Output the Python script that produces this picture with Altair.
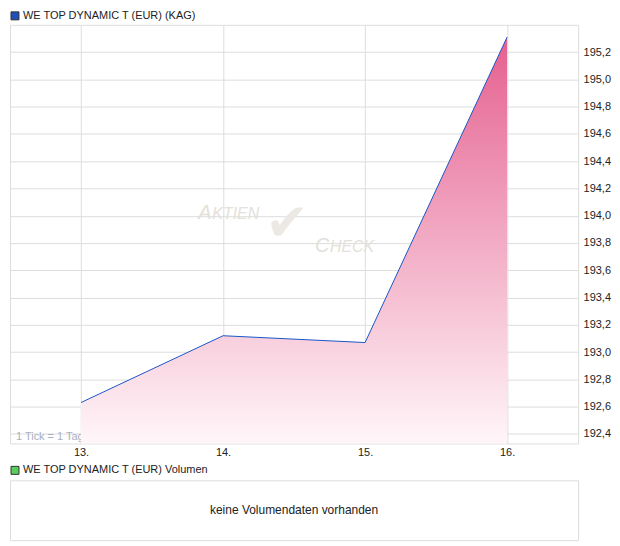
import altair as alt
import pandas as pd

# ---- data ----
days = [13, 14, 15, 16]
values = [192.63, 193.12, 193.07, 195.31]
y_min, y_max = 192.33, 195.40
y_ticks = [192.4, 192.6, 192.8, 193.0, 193.2, 193.4, 193.6, 193.8,
           194.0, 194.2, 194.4, 194.6, 194.8, 195.0, 195.2]
series_name = "WE TOP DYNAMIC T (EUR) (KAG)"
volume_name = "WE TOP DYNAMIC T (EUR) Volumen"
no_volume_text = "keine Volumendaten vorhanden"
tick_note = "1 Tick = 1 Tag"

df = pd.DataFrame({"day": days, "value": values})
one = pd.DataFrame({"k": [0]})

FONT = "Liberation Sans"
W, H = 570, 420

x = alt.X(
    "day:Q",
    scale=alt.Scale(domain=[12.5, 16.5], nice=False, zero=False),
    axis=alt.Axis(values=days, labelExpr="datum.value + '.'", title=None,
                  ticks=False, domain=False, grid=True, gridColor="#dddddd",
                  labelPadding=3, labelFontSize=11, labelColor="#222222",
                  labelFont=FONT, labelFlush=False),
)
y = alt.Y(
    "value:Q",
    scale=alt.Scale(domain=[y_min, y_max], nice=False, zero=False),
    axis=alt.Axis(orient="right", values=y_ticks,
                  labelExpr="replace(format(datum.value, '.1f'), '.', ',')",
                  title=None, ticks=False, domain=False, grid=True,
                  gridColor="#dddddd", labelPadding=5, labelFontSize=11,
                  labelColor="#222222", labelFont=FONT),
)

base = alt.Chart(df)

grid = base.mark_point(opacity=0).encode(x=x, y=y)

wm_color = "#e4e0da"
wm_a = alt.Chart(one).mark_text(text="A", font=FONT, fontSize=20, fontStyle="italic",
                                 color=wm_color, align="left", baseline="alphabetic").encode(
    x=alt.value(189), y=alt.value(195))
wm_ktien = alt.Chart(one).mark_text(text="KTIEN", font=FONT, fontSize=16, fontStyle="italic",
                                     color=wm_color, align="left", baseline="alphabetic").encode(
    x=alt.value(203), y=alt.value(195))
wm_c = alt.Chart(one).mark_text(text="C", font=FONT, fontSize=20, fontStyle="italic",
                                 color=wm_color, align="left", baseline="alphabetic").encode(
    x=alt.value(306), y=alt.value(228))
wm_heck = alt.Chart(one).mark_text(text="HECK", font=FONT, fontSize=16, fontStyle="italic",
                                    color=wm_color, align="left", baseline="alphabetic").encode(
    x=alt.value(321), y=alt.value(228))
wm_check = alt.Chart(one).mark_text(text="\u2714", font="DejaVu Sans", fontSize=52,
                                     color="#ece9e4", align="center", baseline="middle").encode(
    x=alt.value(278), y=alt.value(200))

note = alt.Chart(one).mark_text(text=tick_note, font=FONT, fontSize=11, color="#a8b0c0",
                                 align="left", baseline="middle").encode(
    x=alt.value(6), y=alt.value(H - 6))

area = base.mark_area(
    color=alt.Gradient(
        gradient="linear",
        stops=[alt.GradientStop(color="#e5608f", offset=0),
               alt.GradientStop(color="#fff6f9", offset=1)],
        x1=1, x2=1, y1=0, y2=1,
    )
).encode(x=x, y=y, y2=alt.datum(y_min))

line = base.mark_line(color="#1a56c8", strokeWidth=1).encode(x=x, y=y)

hdr_sq = alt.Chart(one).mark_square(size=64, filled=True, color="#1f4fb8",
                                     stroke="#333333", strokeWidth=1, opacity=1).encode(
    x=alt.value(5), y=alt.value(-9))
hdr_tx = alt.Chart(one).mark_text(text=series_name, font=FONT, fontSize=11, color="#222222",
                                   align="left", baseline="middle").encode(
    x=alt.value(13), y=alt.value(-9))

top = alt.layer(grid, wm_a, wm_ktien, wm_c, wm_heck, wm_check, note, area, line,
                hdr_sq, hdr_tx).properties(width=W, height=H)

vol_sq = alt.Chart(one).mark_square(size=64, filled=True, color="#5ccc5c",
                                     stroke="#333333", strokeWidth=1, opacity=1).encode(
    x=alt.value(5), y=alt.value(-10))
vol_tx = alt.Chart(one).mark_text(text=volume_name, font=FONT, fontSize=11, color="#222222",
                                   align="left", baseline="middle").encode(
    x=alt.value(13), y=alt.value(-10))
vol_msg = alt.Chart(one).mark_text(text=no_volume_text, font=FONT, fontSize=12, color="#222222",
                                    align="center", baseline="middle").encode(
    x=alt.value(W / 2), y=alt.value(30))

bottom = alt.layer(vol_sq, vol_tx, vol_msg).properties(width=W, height=60)

chart = alt.vconcat(top, bottom, spacing=5).properties(padding=0).configure_view(
    stroke="#cccccc", strokeWidth=1
).configure(background="white")

chart.save("out.html", embed_options={"renderer": "svg", "actions": False})
